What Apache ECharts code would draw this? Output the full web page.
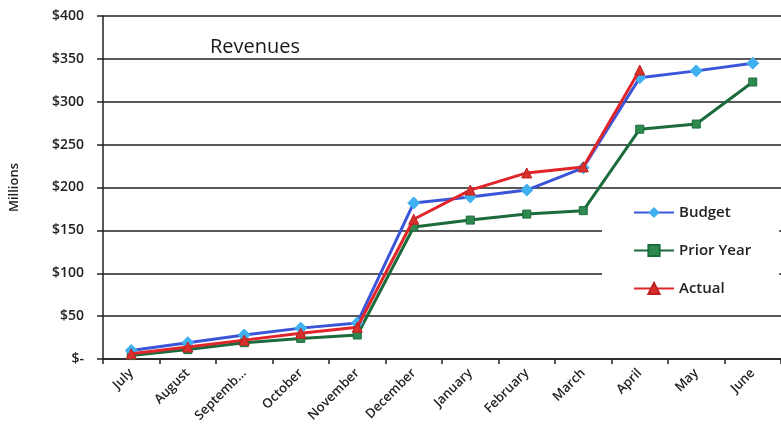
<!DOCTYPE html>
<html>
<head>
<meta charset="utf-8">
<script src="https://cdn.jsdelivr.net/npm/echarts@6/dist/echarts.min.js"></script>
<style>html,body{margin:0;padding:0;background:#fff}#c{width:781px;height:434px}</style>
</head>
<body>
<div id="c"></div>
<script>
const categories = ["July","August","Septemb...","October","November","December","January","February","March","April","May","June"];
const budget = [10, 19, 28, 36, 42, 182, 189, 197, 223, 328, 336, 345];
const priorYear = [4, 11, 19, 24, 28, 154, 162, 169, 173, 268, 274, 323];
const actual = [6, 14, 22, 30, 37, 163, 197, 217, 224, 337, null, null];
const yTicks = [0, 50, 100, 150, 200, 250, 300, 350, 400];

const font = "'Open Sans', 'Noto Sans', sans-serif";
const chart = echarts.init(document.getElementById('c'), null, {renderer: 'canvas'});
chart.setOption({
  backgroundColor: '#fff',
  animation: false,
  title: {
    text: 'Revenues', left: 205, top: 32,
    textStyle: {fontFamily: font, fontSize: 20, fontWeight: 500, color: '#1a1a1a'}
  },
  grid: {left: 103, top: 16, width: 686, height: 343, containLabel: false},
  legend: {
    orient: 'vertical', left: 602, top: 193,
    padding: [12, 28, 12, 31], itemGap: 23,
    backgroundColor: '#fff',
    itemWidth: 40, itemHeight: 14,
    textStyle: {fontFamily: font, fontSize: 15, fontWeight: 600, color: '#222'},
    data: ['Budget', 'Prior Year', 'Actual']
  },
  xAxis: {
    type: 'category', data: categories, boundaryGap: true,
    axisLine: {lineStyle: {color: '#222', width: 1.5}},
    axisTick: {show: true, length: 5, lineStyle: {color: '#222', width: 1.5}},
    axisLabel: {rotate: 45, fontFamily: font, fontSize: 13, fontWeight: 600, color: '#222', margin: 12}
  },
  yAxis: {
    type: 'value', min: 0, max: 400, interval: 50,
    name: 'Millions', nameLocation: 'middle', nameGap: 82, nameRotate: 90,
    nameTextStyle: {fontFamily: font, fontSize: 13, fontWeight: 600, color: '#222'},
    axisLine: {show: true, lineStyle: {color: '#222', width: 1.5}},
    axisTick: {show: true, length: 6, lineStyle: {color: '#222', width: 1.5}},
    splitLine: {lineStyle: {color: '#222', width: 1.5}},
    axisLabel: {
      fontFamily: font, fontSize: 14, fontWeight: 600, color: '#222', margin: 19,
      formatter: v => v === 0 ? '$-' : '$' + v
    }
  },
  series: [
    {
      name: 'Budget', type: 'line', data: budget, z: 3,
      symbol: 'diamond', symbolSize: 12,
      lineStyle: {color: '#3b55d9', width: 3},
      itemStyle: {color: '#3fb0f0', borderColor: '#3fb0f0'},
      color: '#3b55d9'
    },
    {
      name: 'Prior Year', type: 'line', data: priorYear, z: 2,
      symbol: 'rect', symbolSize: 8,
      lineStyle: {color: '#1b6b3c', width: 3},
      itemStyle: {color: '#2f8a50', borderColor: '#1b6b3c', borderWidth: 1},
      color: '#1b6b3c'
    },
    {
      name: 'Actual', type: 'line', data: actual, z: 4,
      symbol: 'triangle', symbolSize: 10,
      lineStyle: {color: '#e0262a', width: 3},
      itemStyle: {color: '#d8302c', borderColor: '#c02020', borderWidth: 1},
      color: '#e0262a'
    }
  ]
});
</script>
</body>
</html>
